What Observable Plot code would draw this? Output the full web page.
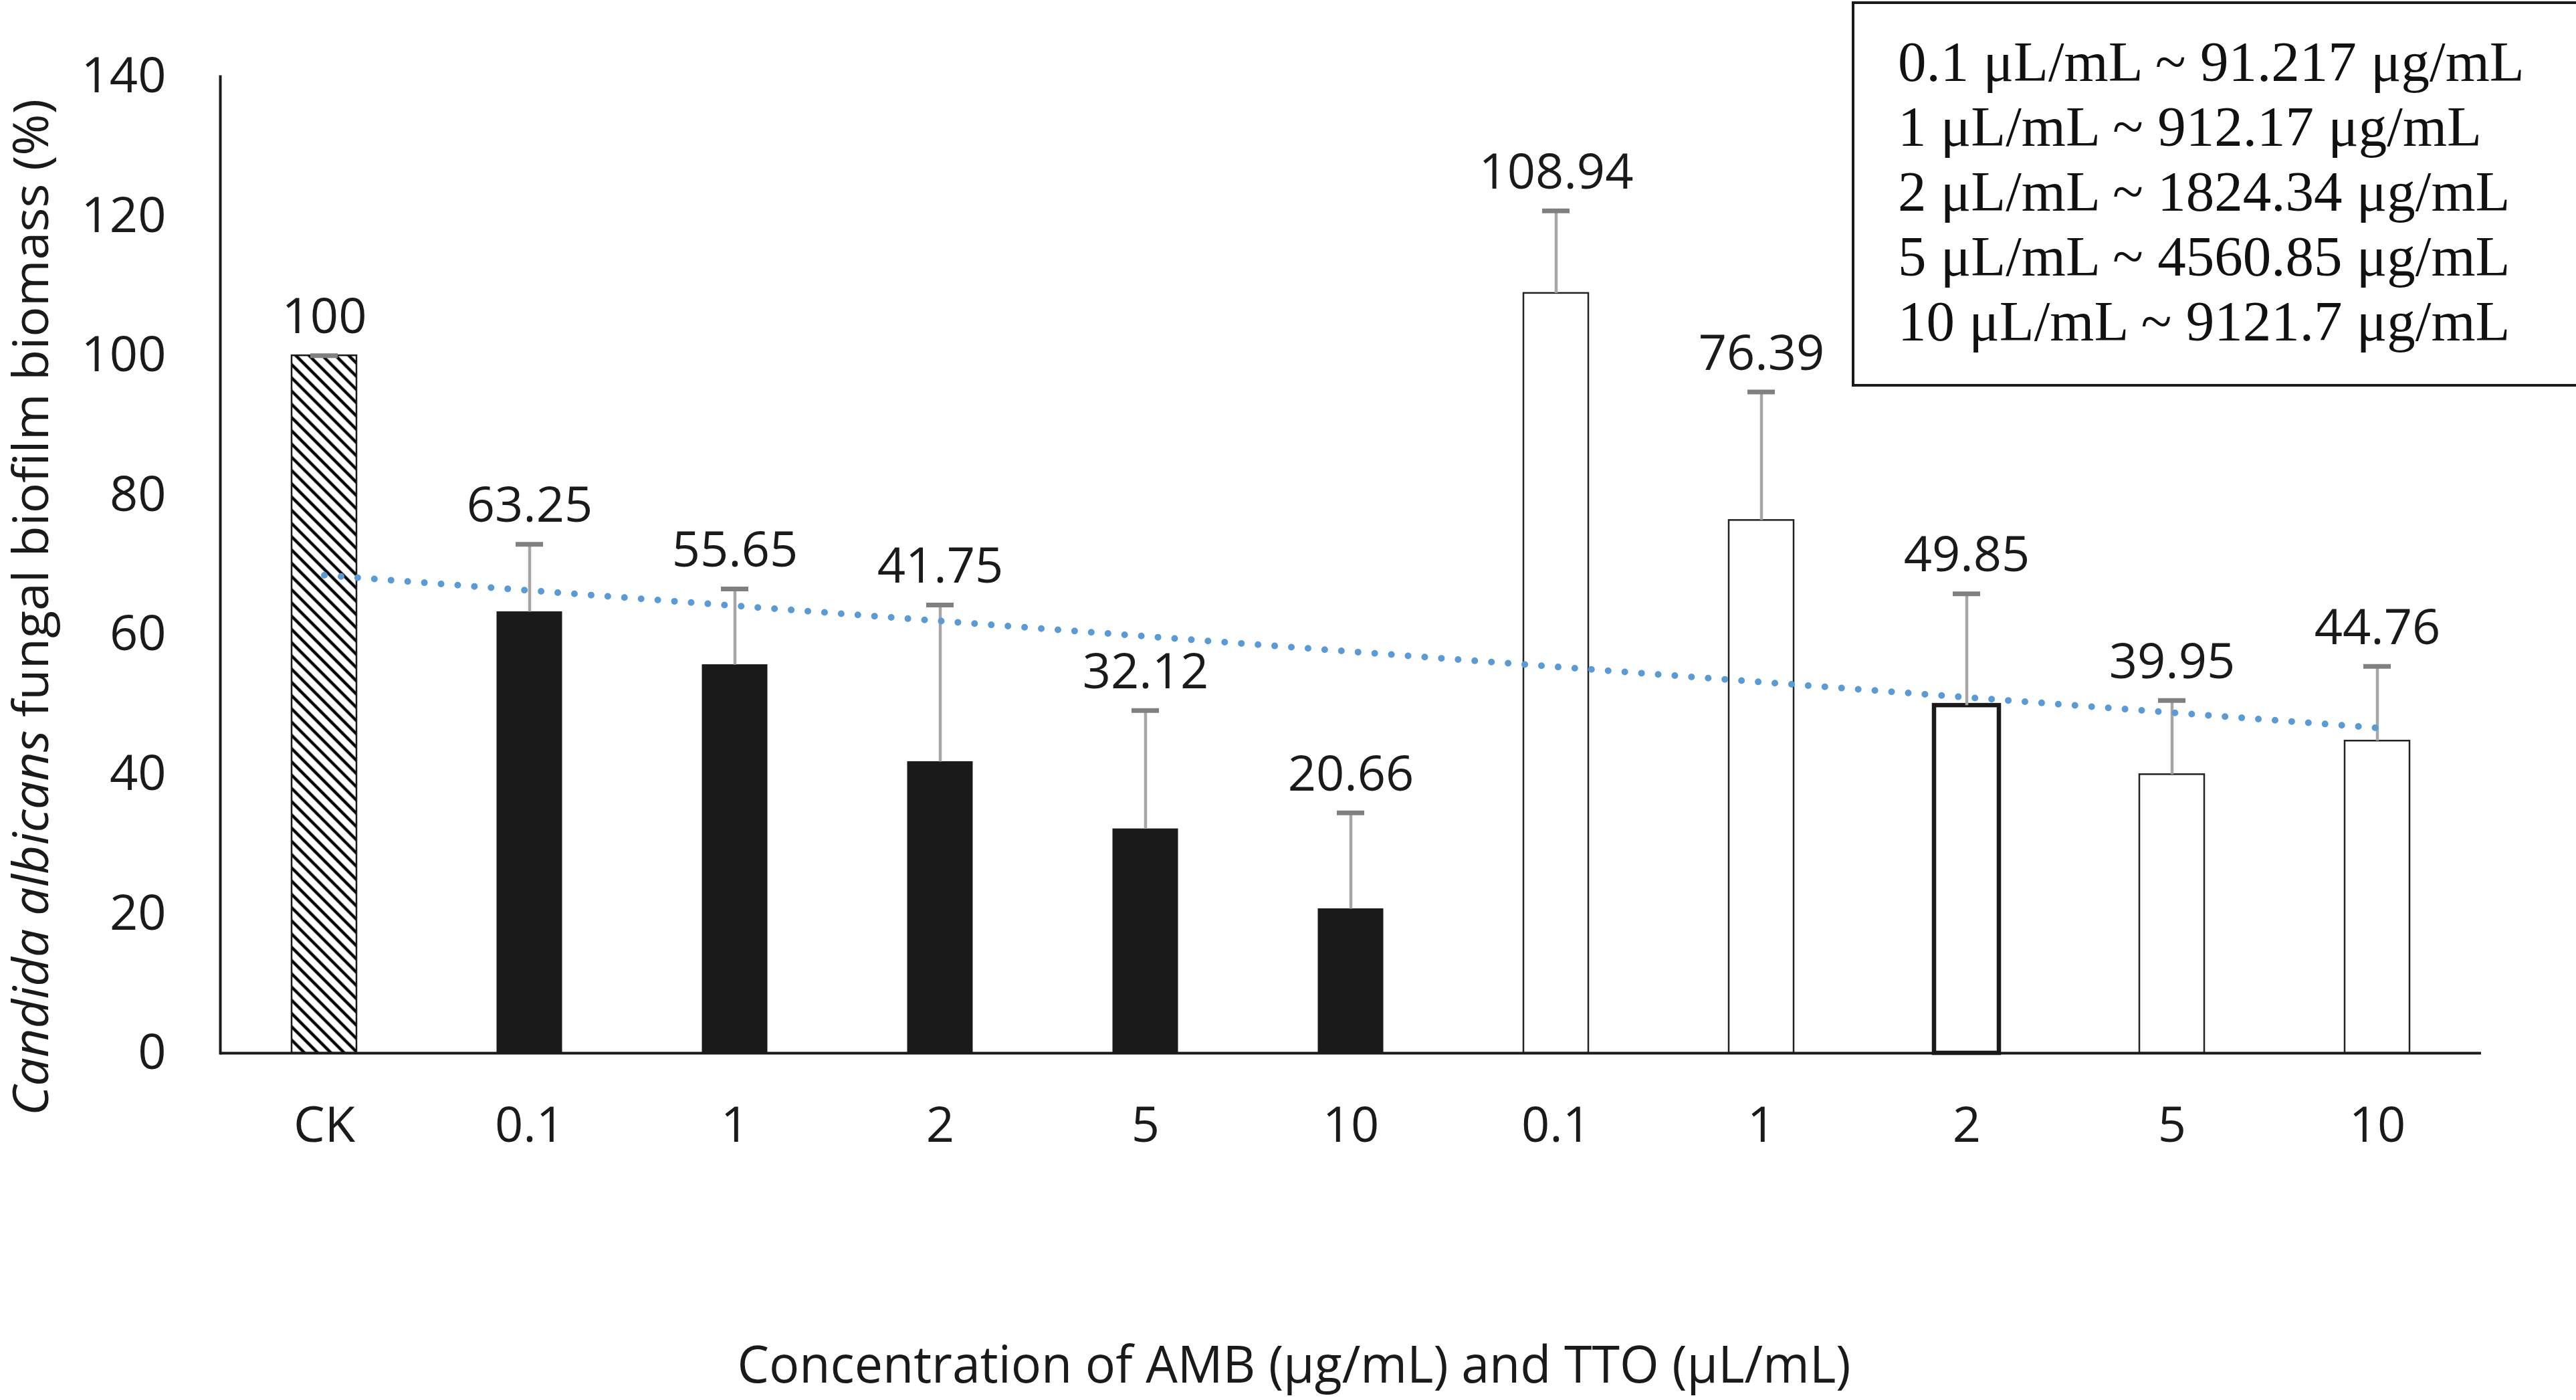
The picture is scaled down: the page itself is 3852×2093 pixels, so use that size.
<!DOCTYPE html>
<html>
<head>
<meta charset="utf-8">
<script src="https://cdn.jsdelivr.net/npm/d3@7"></script>
<script src="https://cdn.jsdelivr.net/npm/@observablehq/plot@0.6"></script>
<style>
  html, body { margin: 0; padding: 0; background: #ffffff; }
  #wrap { position: relative; width: 3852px; height: 2093px; overflow: hidden; background: #fff; }
  #legend {
    position: absolute; left: 2769px; top: 2px; width: 1200px; height: 576px;
    box-sizing: border-box; border: 4px solid #1a1a1a; background: #fff;
    font-family: "Liberation Serif", "Times New Roman", serif; font-size: 85px; line-height: 97px;
    padding: 38px 0 0 65px; color: #111; white-space: nowrap;
  }
</style>
</head>
<body>
<div id="wrap"><div id="chart"></div><div id="legend"></div></div>
<script>
// ---- data ----
const keys = ["CK", "AMB 0.1", "AMB 1", "AMB 2", "AMB 5", "AMB 10", "TTO 0.1", "TTO 1", "TTO 2", "TTO 5", "TTO 10"];
const tickLabels = ["CK", "0.1", "1", "2", "5", "10", "0.1", "1", "2", "5", "10"];
const groups = ["CK", "AMB", "AMB", "AMB", "AMB", "AMB", "TTO", "TTO", "TTO", "TTO", "TTO"];
const values = [100, 63.25, 55.65, 41.75, 32.12, 20.66, 108.94, 76.39, 49.85, 39.95, 44.76];
const errors = [0, 9.7, 10.9, 22.5, 17.0, 13.8, 11.8, 18.4, 16.0, 10.6, 10.7];
const valueLabels = ["100", "63.25", "55.65", "41.75", "32.12", "20.66", "108.94", "76.39", "49.85", "39.95", "44.76"];
const yTicks = [0, 20, 40, 60, 80, 100, 120, 140];
const xTitle = "Concentration of AMB (μg/mL) and TTO (μL/mL)";
const yTitleItalic = "Candida albicans";
const yTitleRest = " fungal biofilm biomass (%)";
const legendLines = [
  "0.1 μL/mL ~ 91.217 μg/mL",
  "1 μL/mL ~ 912.17 μg/mL",
  "2 μL/mL ~ 1824.34 μg/mL",
  "5 μL/mL ~ 4560.85 μg/mL",
  "10 μL/mL ~ 9121.7 μg/mL"
];
const emphasizedKey = "TTO 2";

const data = keys.map((k, i) => ({key: k, group: groups[i], value: values[i], err: errors[i], top: values[i] + errors[i], label: valueLabels[i]}));

// linear trendline (least squares over bar index, as in the spreadsheet trendline)
const idx = values.map((_, i) => i + 1);
const mx = d3.mean(idx), my = d3.mean(values);
const slope = d3.sum(idx, (x, i) => (x - mx) * (values[i] - my)) / d3.sum(idx, x => (x - mx) ** 2);
const trend = [0, keys.length - 1].map(i => ({key: keys[i], y: my + slope * (i + 1 - mx)}));

const ink = "#1a1a1a";
const W = 3852, H = 2093;

const svg = Plot.plot({
  width: W,
  height: H,
  marginLeft: 329,
  marginRight: 142,
  marginTop: 114,
  marginBottom: 519,
  style: {fontFamily: "'Open Sans', sans-serif", fontSize: "74px", color: ink, background: "#fff"},
  x: {domain: keys, paddingInner: 0.684, paddingOuter: 0.342, label: null},
  y: {domain: [0, 140], label: null},
  marks: [
    Plot.barY(data.filter(d => d.group === "CK"), {x: "key", y: "value", fill: "url(#hatch)", stroke: ink, strokeWidth: 2.5}),
    Plot.barY(data.filter(d => d.group === "AMB"), {x: "key", y: "value", fill: ink, stroke: ink, strokeWidth: 1}),
    Plot.barY(data.filter(d => d.group === "TTO" && d.key !== emphasizedKey), {x: "key", y: "value", fill: "#fff", stroke: "#222", strokeWidth: 2.5}),
    Plot.barY(data.filter(d => d.key === emphasizedKey), {x: "key", y: "value", fill: "#fff", stroke: ink, strokeWidth: 6.5}),
    Plot.ruleX(data, {x: "key", y1: "value", y2: "top", stroke: "#a6a6a6", strokeWidth: 4.5}),
    Plot.tickY(data, {x: "key", y: "top", stroke: "#808080", strokeWidth: 7, inset: 28}),
    Plot.ruleY([0], {stroke: ink, strokeWidth: 4}),
    Plot.frame({anchor: "left", stroke: ink, strokeWidth: 4}),
    Plot.line(trend, {x: "key", y: "y", stroke: "#5b9bd5", strokeWidth: 10, strokeDasharray: "0,25", strokeLinecap: "round"}),
    Plot.text(data, {x: "key", y: "top", text: "label", dy: -57, fill: ink}),
    Plot.axisY({ticks: yTicks, tickSize: 0, tickPadding: 81, label: null, fill: ink}),
    Plot.axisX({tickSize: 0, tickPadding: 80, label: null, fill: ink, tickFormat: d => tickLabels[keys.indexOf(d)]})
  ]
});

// hatch pattern for the control bar
const defs = d3.select(svg).insert("defs", ":first-child");
const pat = defs.append("pattern").attr("id", "hatch").attr("patternUnits", "userSpaceOnUse")
  .attr("width", 14).attr("height", 14).attr("patternTransform", "rotate(-45)");
pat.append("rect").attr("width", 14).attr("height", 14).attr("fill", "#fff");
pat.append("line").attr("x1", 7).attr("y1", 0).attr("x2", 7).attr("y2", 14).attr("stroke", "#000").attr("stroke-width", 4.5);

// axis titles
const yt = d3.select(svg).append("text")
  .attr("transform", "translate(72,908) rotate(-90)")
  .attr("text-anchor", "middle").attr("fill", ink)
  .attr("font-family", "'Open Sans', sans-serif").attr("font-size", 74)
  .attr("textLength", 1520).attr("lengthAdjust", "spacingAndGlyphs");
yt.append("tspan").attr("font-style", "italic").text(yTitleItalic);
yt.append("tspan").text(yTitleRest);

d3.select(svg).append("text")
  .attr("x", 1935).attr("y", 2067)
  .attr("text-anchor", "middle").attr("fill", ink)
  .attr("font-family", "'Open Sans', sans-serif").attr("font-size", 76)
  .attr("textLength", 1665).attr("lengthAdjust", "spacingAndGlyphs")
  .text(xTitle);

document.getElementById("chart").appendChild(svg);

const legend = d3.select("#legend");
legend.selectAll("div").data(legendLines).join("div").text(d => d);
</script>
</body>
</html>
